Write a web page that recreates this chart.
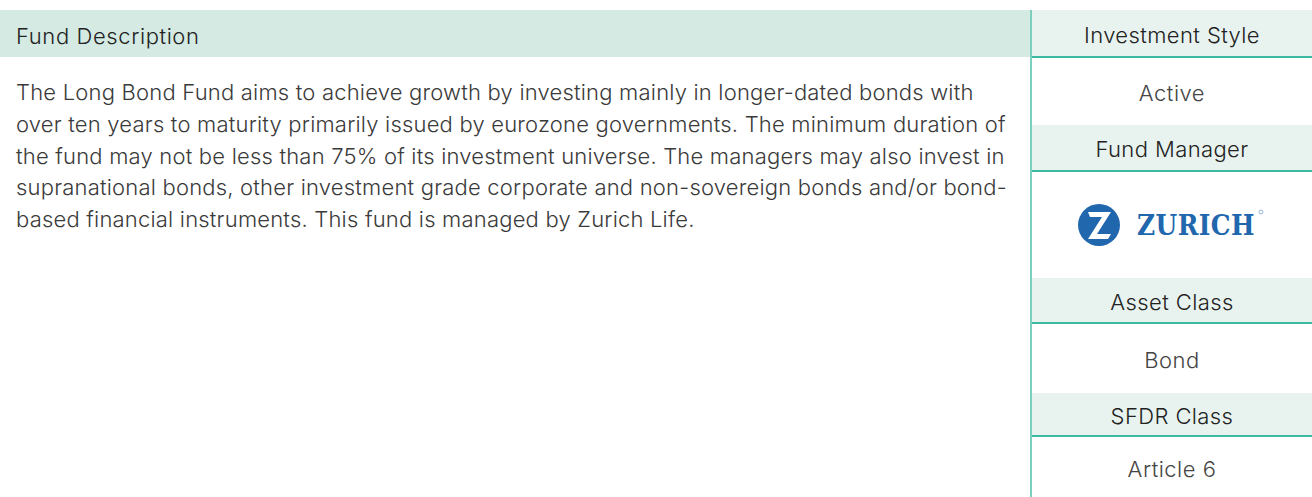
<!DOCTYPE html>
<html>
<head>
<meta charset="utf-8">
<script src="https://cdn.jsdelivr.net/npm/chart.js"></script>
<style>
  body { margin: 0; width: 1312px; height: 497px; background: #fff; font-family: Inter, "Noto Sans", sans-serif; color: #222; overflow: hidden; }
  .left { position: absolute; left: 0; top: 10px; width: 1031px; }
  .left .head { height: 47px; background: #d4eae3; font-size: 22px; line-height: 52px; padding-left: 16px; letter-spacing: 0.6px; font-weight: 350; }
  .left .body { padding: 20px 16px 0 16px; font-size: 22px; line-height: 31.8px; color: #3a3a3a; font-weight: 300; letter-spacing: 0.2px; white-space: nowrap; }
  .vline { position: absolute; left: 1030px; top: 10px; width: 2px; height: 487px; background: #7ccfbd; }
  .right { position: absolute; left: 1032px; top: 10px; width: 280px; }
  .cell-h { background: #e8f3ef; text-align: center; font-size: 22px; border-bottom: 2px solid #3cbba2; box-sizing: border-box; letter-spacing: 0.4px; font-weight: 350; }
  .cell-v { text-align: center; font-size: 22px; color: #444; font-weight: 300; letter-spacing: 0.5px; box-sizing: border-box; }
</style>
</head>
<body>
<div class="left">
  <div class="head">Fund Description</div>
  <div class="body" id="desc"></div>
</div>
<div class="vline"></div>
<div class="right" id="side"></div>
<script>
const descLines = [
  'The Long Bond Fund aims to achieve growth by investing mainly in longer-dated bonds with',
  'over ten years to maturity primarily issued by eurozone governments. The minimum duration of',
  'the fund may not be less than 75% of its investment universe. The managers may also invest in',
  'supranational bonds, other investment grade corporate and non-sovereign bonds and/or bond-',
  'based financial instruments. This fund is managed by Zurich Life.'
];
const fieldNames = ['Investment Style', 'Fund Manager', 'Asset Class', 'SFDR Class'];
const fieldValues = ['Active', 'ZURICH', 'Bond', 'Article 6'];
const headHeights = [48, 47, 46, 44];
const valueHeights = [67, 106, 69, 61];

document.getElementById('desc').innerHTML = descLines.join('<br>');

const side = document.getElementById('side');
fieldNames.forEach((name, i) => {
  const h = document.createElement('div');
  h.className = 'cell-h';
  h.style.height = headHeights[i] + 'px';
  h.style.lineHeight = (headHeights[i] + 2) + 'px';
  h.textContent = name;
  side.appendChild(h);

  const v = document.createElement('div');
  v.className = 'cell-v';
  v.style.height = valueHeights[i] + 'px';
  v.style.lineHeight = (valueHeights[i] + 4) + 'px';
  if (fieldValues[i] === 'ZURICH') {
    v.style.lineHeight = 'normal';
    v.style.paddingTop = '28px';
    v.innerHTML =
      '<svg width="188" height="50" viewBox="0 0 188 50" style="display:block;margin:0 auto">' +
      '<circle cx="21" cy="25" r="21" fill="#2167ae"/>' +
      '<path d="M10 12 H33 L19 34 H33 L30 39 H10 L24 17 H12 Z" fill="#fff"/>' +
      '<text x="59" y="35" textLength="118" lengthAdjust="spacingAndGlyphs" font-family="DejaVu Serif, serif" font-weight="bold" font-size="27" fill="#2167ae">ZURICH</text>' +
      '<circle cx="183" cy="12" r="2" fill="none" stroke="#7fa6cf" stroke-width="0.8"/>' +
      '</svg>';
  } else {
    v.textContent = fieldValues[i];
  }
  side.appendChild(v);
});
</script>
</body>
</html>
